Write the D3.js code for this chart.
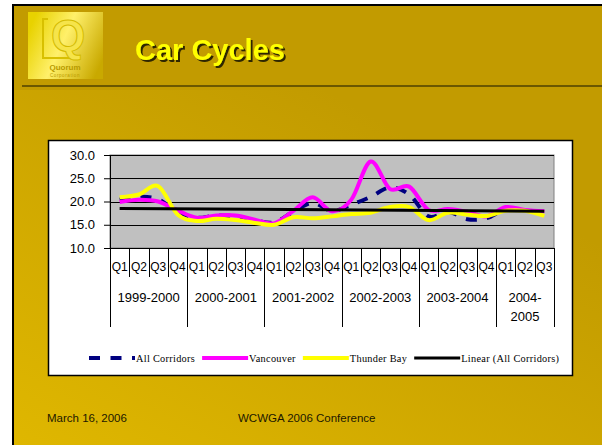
<!DOCTYPE html>
<html>
<head>
<meta charset="utf-8">
<title>Car Cycles</title>
<script src="https://cdn.jsdelivr.net/npm/d3@7"></script>
<style>
    body { margin: 0; background: #fff; }
    svg { display: block; }
</style>
</head>
<body>
<div id="slide"></div>
<script>
"use strict";

const years = ["1999-2000", "2000-2001", "2001-2002", "2002-2003", "2003-2004", "2004-2005"];
const quartersPerYear = [4, 4, 4, 4, 4, 3];
const quarterNames = ["Q1", "Q2", "Q3", "Q4"];

const allCorridors = [20.4, 21.0, 20.5, 17.8, 16.5, 17.0, 16.8, 16.0, 15.5, 17.8, 19.7, 18.0,
    19.3, 21.0, 23.0, 21.5, 16.8, 17.8, 16.2, 16.4, 18.3, 18.0, 17.8];
const vancouver = [19.9, 20.4, 20.0, 18.1, 16.5, 17.0, 17.0, 16.1, 15.3, 18.0, 20.9, 17.9,
    20.4, 28.6, 22.7, 23.2, 18.2, 18.4, 17.8, 16.8, 18.8, 18.2, 17.9];
const thunderBay = [20.9, 21.5, 23.3, 17.2, 15.8, 16.3, 16.0, 15.4, 15.0, 16.6, 16.4, 16.8,
    17.3, 17.6, 18.8, 18.8, 16.0, 17.6, 17.2, 16.9, 18.0, 18.0, 16.9];
// trendline ends
const trendEnds = [18.5, 17.9];

const yTicks = [10, 15, 20, 25, 30];

const seriesNames = ["All Corridors", "Vancouver", "Thunder Bay", "Linear (All Corridors)"];
const seriesColors = ["#000080", "#ff00ff", "#ffff00", "#000000"];

const width = 602;
const height = 445;
const plot = { left: 110, right: 554, top: 155, bottom: 248 };

function renderSlide() {
    const svg = d3
        .select("#slide")
        .append("svg")
        .attr("width", width)
        .attr("height", height);

    const defs = svg.append("defs");

    const glow = defs.append("linearGradient")
        .attr("id", "glow")
        .attr("x1", 0).attr("y1", 1)
        .attr("x2", 0.75).attr("y2", 0.2);
    glow.append("stop").attr("offset", 0).attr("stop-color", "#dfb700").attr("stop-opacity", 1);
    glow.append("stop").attr("offset", 1).attr("stop-color", "#dfb700").attr("stop-opacity", 0);

    const logoGrad = defs.append("linearGradient")
        .attr("id", "logoGrad")
        .attr("x1", 0).attr("y1", 0.3)
        .attr("x2", 1).attr("y2", 0.7);
    logoGrad.append("stop").attr("offset", 0).attr("stop-color", "#e8d200");
    logoGrad.append("stop").attr("offset", 0.45).attr("stop-color", "#fff06a");
    logoGrad.append("stop").attr("offset", 1).attr("stop-color", "#c9a900");

    const shadow = defs.append("filter")
        .attr("id", "shadow")
        .attr("x", "-10%").attr("y", "-20%")
        .attr("width", "130%").attr("height", "150%");
    shadow.append("feDropShadow")
        .attr("dx", 2).attr("dy", 2)
        .attr("stdDeviation", 0.4)
        .attr("flood-color", "#2e2600")
        .attr("flood-opacity", 1);

    // slide background + frame
    svg.append("rect")
        .attr("x", 12).attr("y", 4)
        .attr("width", width - 12).attr("height", height - 4)
        .attr("fill", "#c29b00");
    svg.append("rect")
        .attr("x", 12).attr("y", 90)
        .attr("width", width - 12).attr("height", height - 90)
        .attr("fill", "url(#glow)");
    svg.append("path")
        .attr("d", `M13,${height} V5 H${width}`)
        .attr("fill", "none")
        .attr("stroke", "#000")
        .attr("stroke-width", 2);

    // logo
    const logo = svg.append("g");
    logo.append("rect")
        .attr("x", 28).attr("y", 12)
        .attr("width", 75).attr("height", 67)
        .attr("fill", "url(#logoGrad)");
    logo.append("path")
        .attr("d", "M48,19 H43 V58 H80")
        .attr("fill", "none")
        .attr("stroke", "#d8c000")
        .attr("stroke-width", 2);
    logo.append("text")
        .attr("x", 68).attr("y", 51)
        .attr("text-anchor", "middle")
        .attr("font-family", "Arial, 'Liberation Sans', sans-serif")
        .attr("font-weight", "bold")
        .attr("font-size", 44)
        .attr("fill", "#f6e44a")
        .attr("stroke", "#d4bb00")
        .attr("stroke-width", 1)
        .text("Q");
    logo.append("text")
        .attr("x", 65).attr("y", 70)
        .attr("text-anchor", "middle")
        .attr("font-family", "Arial, 'Liberation Sans', sans-serif")
        .attr("font-weight", "bold")
        .attr("font-size", 8)
        .attr("fill", "#b89a00")
        .text("Quorum");
    logo.append("text")
        .attr("x", 65).attr("y", 77)
        .attr("text-anchor", "middle")
        .attr("font-family", "Arial, 'Liberation Sans', sans-serif")
        .attr("font-size", 4.5)
        .attr("letter-spacing", 0.6)
        .attr("fill", "#b89a00")
        .text("Corporation");

    // title
    svg.append("text")
        .attr("x", 135).attr("y", 60)
        .attr("font-family", "Arial, 'Liberation Sans', sans-serif")
        .attr("font-weight", "bold")
        .attr("font-size", 29)
        .attr("fill", "#ffff00")
        .attr("filter", "url(#shadow)")
        .text("Car Cycles");

    svg.append("line")
        .attr("x1", 22).attr("x2", width)
        .attr("y1", 86).attr("y2", 86)
        .attr("stroke", "#6b5700")
        .attr("stroke-width", 2);

    // chart box
    svg.append("rect")
        .attr("x", 48.5).attr("y", 140.5)
        .attr("width", 524).attr("height", 235)
        .attr("fill", "#fff")
        .attr("stroke", "#000")
        .attr("stroke-width", 1.5);

    renderChart(svg);

    // footer
    const footer = svg.append("g")
        .attr("font-family", "Arial, 'Liberation Sans', sans-serif")
        .attr("font-size", 11.5)
        .attr("fill", "#1c1800");
    footer.append("text").attr("x", 47).attr("y", 422).text("March 16, 2006");
    footer.append("text").attr("x", 238).attr("y", 422).text("WCWGA 2006 Conference");
}

function renderChart(svg) {
    const n = d3.sum(quartersPerYear);
    const idx = d3.range(n);

    const xScale = d3.scaleBand()
        .domain(idx)
        .range([plot.left, plot.right])
        .padding(0);
    const xc = i => xScale(i) + xScale.bandwidth() / 2;

    const yScale = d3.scaleLinear()
        .domain([10, 30])
        .range([plot.bottom, plot.top]);

    const g = svg.append("g");

    g.append("rect")
        .attr("x", plot.left).attr("y", plot.top)
        .attr("width", plot.right - plot.left)
        .attr("height", plot.bottom - plot.top)
        .attr("fill", "#c0c0c0")
        .attr("stroke", "#808080");

    // gridlines
    g.selectAll(".grid")
        .data(yTicks.slice(1))
        .enter()
        .append("line")
        .attr("class", "grid")
        .attr("x1", plot.left).attr("x2", plot.right)
        .attr("y1", d => Math.round(yScale(d)) + 0.5)
        .attr("y2", d => Math.round(yScale(d)) + 0.5)
        .attr("stroke", "#000");

    // Y axis
    const yAxis = d3.axisLeft(yScale)
        .tickValues(yTicks)
        .tickSize(6)
        .tickPadding(9)
        .tickFormat(d3.format(".1f"));

    g.append("g")
        .attr("transform", `translate(${plot.left}, 0)`)
        .call(yAxis)
        .call(a => a.select(".domain").attr("stroke", "#000"))
        .call(a => a.selectAll("text")
            .attr("font-family", "Arial, 'Liberation Sans', sans-serif")
            .attr("font-size", 13)
            .attr("fill", "#000"));

    // X axis, two levels of categories
    g.append("line")
        .attr("x1", plot.left).attr("x2", plot.right)
        .attr("y1", plot.bottom + 0.5).attr("y2", plot.bottom + 0.5)
        .attr("stroke", "#000");

    const quarterLabels = [];
    quartersPerYear.forEach(c => quarterNames.slice(0, c).forEach(q => quarterLabels.push(q)));

    g.selectAll(".qsep")
        .data(d3.range(n + 1))
        .enter()
        .append("line")
        .attr("class", "qsep")
        .attr("x1", i => Math.round(xScale(i) ?? plot.right) + 0.5)
        .attr("x2", i => Math.round(xScale(i) ?? plot.right) + 0.5)
        .attr("y1", plot.bottom)
        .attr("y2", 277)
        .attr("stroke", "#000");

    g.selectAll(".qlab")
        .data(quarterLabels)
        .enter()
        .append("text")
        .attr("class", "qlab")
        .attr("x", (_, i) => xc(i))
        .attr("y", 271)
        .attr("text-anchor", "middle")
        .attr("font-family", "Arial, 'Liberation Sans', sans-serif")
        .attr("font-size", 12)
        .text(d => d);

    const starts = [0];
    quartersPerYear.forEach((c, i) => starts.push(starts[i] + c));

    g.selectAll(".ysep")
        .data(starts)
        .enter()
        .append("line")
        .attr("class", "ysep")
        .attr("x1", s => Math.round(s < n ? xScale(s) : plot.right) + 0.5)
        .attr("x2", s => Math.round(s < n ? xScale(s) : plot.right) + 0.5)
        .attr("y1", plot.bottom)
        .attr("y2", 327)
        .attr("stroke", "#000");

    const yearText = g.selectAll(".ylab")
        .data(years)
        .enter()
        .append("text")
        .attr("class", "ylab")
        .attr("text-anchor", "middle")
        .attr("font-family", "Arial, 'Liberation Sans', sans-serif")
        .attr("font-size", 13);

    yearText.each(function(d, i) {
        const x0 = xScale(starts[i]);
        const x1 = starts[i + 1] < n ? xScale(starts[i + 1]) : plot.right;
        const cx = (x0 + x1) / 2;
        const el = d3.select(this);
        el.append("tspan").attr("x", cx).attr("y", 302).text(d);
        if (this.getComputedTextLength() > x1 - x0 - 4) {
            el.selectAll("tspan").remove();
            const parts = d.split("-");
            el.append("tspan").attr("x", cx).attr("y", 302).text(parts[0] + "-");
            el.append("tspan").attr("x", cx).attr("y", 321).text(parts[1]);
        }
    });

    // series
    const line = d3.line()
        .x((_, i) => xc(i))
        .y(d => yScale(d))
        .curve(d3.curveCardinal.tension(0));

    g.append("path")
        .datum(allCorridors)
        .attr("d", line)
        .attr("fill", "none")
        .attr("stroke", seriesColors[0])
        .attr("stroke-width", 4)
        .attr("stroke-dasharray", "11,10");

    g.append("path")
        .datum(vancouver)
        .attr("d", line)
        .attr("fill", "none")
        .attr("stroke", seriesColors[1])
        .attr("stroke-width", 4);

    g.append("path")
        .datum(thunderBay)
        .attr("d", line)
        .attr("fill", "none")
        .attr("stroke", seriesColors[2])
        .attr("stroke-width", 4);

    g.append("line")
        .attr("x1", xc(0)).attr("x2", xc(n - 1))
        .attr("y1", yScale(trendEnds[0]))
        .attr("y2", yScale(trendEnds[1]))
        .attr("stroke", seriesColors[3])
        .attr("stroke-width", 3);

    // legend
    const legend = svg.append("g")
        .attr("transform", "translate(89, 358)");
    let lx = 0;
    seriesNames.forEach((name, i) => {
        legend.append("line")
            .attr("x1", lx).attr("x2", lx + 46)
            .attr("y1", 0).attr("y2", 0)
            .attr("stroke", seriesColors[i])
            .attr("stroke-width", i === 3 ? 3 : 4)
            .attr("stroke-dasharray", i === 0 ? "11,10.5" : null);
        const t = legend.append("text")
            .attr("x", lx + 47)
            .attr("y", 3.5)
            .attr("font-family", "'Times New Roman', 'Liberation Serif', serif")
            .attr("font-size", 10.3)
            .attr("letter-spacing", 0.3)
            .attr("fill", "#000")
            .text(name);
        lx += 47 + t.node().getComputedTextLength() + 7;
    });
}

document.addEventListener("DOMContentLoaded", renderSlide);
</script>
</body>
</html>
